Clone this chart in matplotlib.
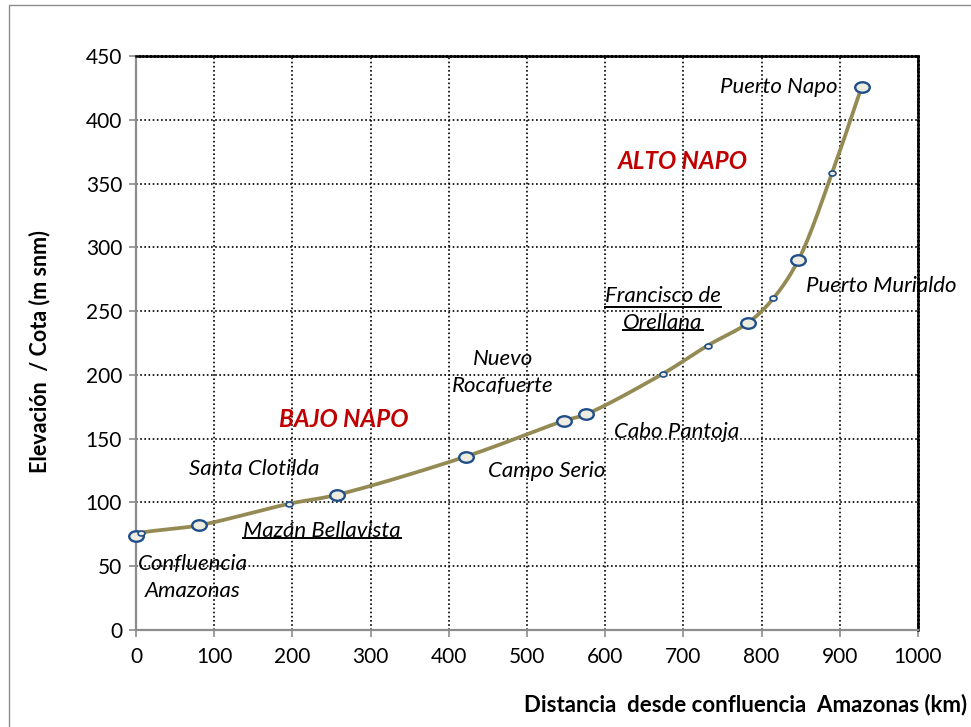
import numpy as np
import matplotlib
matplotlib.use("Agg")
import matplotlib.pyplot as plt
from matplotlib.path import Path
from matplotlib.transforms import Affine2D
from matplotlib.lines import Line2D
from matplotlib.patches import Rectangle

plt.rcParams['font.family'] = ['Lato', 'DejaVu Sans']

# Data
dist_km = [0, 6, 80, 196, 257, 422, 547, 575, 674, 731, 783, 815, 847, 890, 928]
elev_m = [74, 76, 82, 99, 106, 136, 164, 169, 201, 223, 241, 260, 290, 358, 426]
big_marker = [True, False, True, False, True, True, True, True, False, False, True, False, True, False, True]

labels = ["Puerto Napo", "Francisco de\nOrellana", "Puerto Murialdo", "Nuevo\nRocafuerte",
          "Cabo Pantoja", "Campo Serio", "Santa Clotilda", "Mazán Bellavista", "Confluencia\nAmazonas"]
label_x = [747, 674, 857, 469, 611, 450, 68, 137, 73]
label_y = [426, 251, 270, 202, 155, 125, 126, 78, 41]
label_ha = ['left', 'center', 'left', 'center', 'left', 'left', 'left', 'left', 'center']
label_ul = [False, True, False, False, False, False, False, True, False]

regions = ["ALTO NAPO", "BAJO NAPO"]
region_x = [616, 183]
region_y = [367, 165]

xticks = [0, 100, 200, 300, 400, 500, 600, 700, 800, 900, 1000]
yticks = [0, 50, 100, 150, 200, 250, 300, 350, 400, 450]

LABEL_FS = 16

fig = plt.figure(figsize=(9.71, 7.27), dpi=100)
ax = fig.add_axes([136/971, 1-630/727, (918-136)/971, (630-56)/727])
ax.set_xlim(0, 1000)
ax.set_ylim(0, 450)

# outer chart border
fig.add_artist(Rectangle((9/971, -0.01), 1.0, 1 - 5/727 + 0.01, transform=fig.transFigure,
                         fill=False, edgecolor='#8c8c8c', linewidth=1.0))

# centripetal Catmull-Rom smoothing in display-proportional space
sx, sy = 0.782, 1.2756
P = np.column_stack([np.array(dist_km, float) * sx, np.array(elev_m, float) * sy])
P_ext = np.vstack([2 * P[0] - P[1], P, 2 * P[-1] - P[-2]])
curve = []
alpha = 0.5
for i in range(1, len(P_ext) - 2):
    p0, p1, p2, p3 = P_ext[i - 1], P_ext[i], P_ext[i + 1], P_ext[i + 2]
    t0 = 0.0
    t1 = t0 + np.linalg.norm(p1 - p0) ** alpha
    t2 = t1 + np.linalg.norm(p2 - p1) ** alpha
    t3 = t2 + np.linalg.norm(p3 - p2) ** alpha
    t = np.linspace(t1, t2, 40)[:, None]
    A1 = (t1 - t) / (t1 - t0) * p0 + (t - t0) / (t1 - t0) * p1
    A2 = (t2 - t) / (t2 - t1) * p1 + (t - t1) / (t2 - t1) * p2
    A3 = (t3 - t) / (t3 - t2) * p2 + (t - t2) / (t3 - t2) * p3
    B1 = (t2 - t) / (t2 - t0) * A1 + (t - t0) / (t2 - t0) * A2
    B2 = (t3 - t) / (t3 - t1) * A2 + (t - t1) / (t3 - t1) * A3
    C = (t2 - t) / (t2 - t1) * B1 + (t - t1) / (t2 - t1) * B2
    curve.append(C)
curve = np.vstack(curve)
ax.plot(curve[:, 0] / sx, curve[:, 1] / sy, color='#948A54', linewidth=2.7, zorder=3,
        solid_capstyle='round', clip_on=False)

ellipse = Path.unit_circle().transformed(Affine2D().scale(1.0, 0.72))
xb = [x for x, b in zip(dist_km, big_marker) if b]
yb = [y for y, b in zip(elev_m, big_marker) if b]
xs = [x for x, b in zip(dist_km, big_marker) if not b]
ys = [y for y, b in zip(elev_m, big_marker) if not b]
ax.plot(xb, yb, linestyle='none', marker=ellipse, markersize=10.5, markerfacecolor='#EEECE1',
        markeredgecolor='#1F4E89', markeredgewidth=1.7, zorder=4, clip_on=False)
ax.plot(xs, ys, linestyle='none', marker=ellipse, markersize=5, markerfacecolor='#EEECE1',
        markeredgecolor='#1F4E89', markeredgewidth=1.2, zorder=4, clip_on=False)

ax.set_xticks(xticks)
ax.set_yticks(yticks)
ax.tick_params(axis='both', labelsize=15, color='#8c8c8c', length=5, width=1.2, pad=5)
ax.tick_params(axis='x', pad=7)
ax.grid(True, color='black', linestyle=(0, (1, 1.5)), linewidth=1.2)
ax.set_axisbelow(True)
for s in ['left', 'bottom']:
    ax.spines[s].set_color('#8c8c8c')
    ax.spines[s].set_linewidth(1.6)
for s in ['top', 'right']:
    ax.spines[s].set_color('black')
    ax.spines[s].set_linewidth(1.8)
    ax.spines[s].set_linestyle((0, (1, 0.5)))

fig.text(40/971, 1 - 352/727, 'Elevación  / Cota (m snm)', rotation=90, ha='center', va='center',
         fontsize=15.5, fontweight='bold')
fig.text(967/971, 1 - 705/727, 'Distancia  desde confluencia  Amazonas (km)', ha='right', va='center',
         fontsize=16, fontweight='bold')

texts = []
for lab, x, y, ha, ul in zip(labels, label_x, label_y, label_ha, label_ul):
    t = ax.text(x, y, lab, ha=ha, va='center', fontsize=LABEL_FS, fontstyle='italic',
                linespacing=1.45, multialignment='center', zorder=5)
    texts.append((t, ul))

for lab, x, y in zip(regions, region_x, region_y):
    ax.text(x, y, lab, ha='left', va='center', fontsize=17.5, fontstyle='italic', fontweight='bold',
            color='#C00000', zorder=5)

# underline selected labels line by line
fig.canvas.draw()
renderer = fig.canvas.get_renderer()
for t, ul in texts:
    if not ul:
        continue
    bb = t.get_window_extent(renderer)
    lines = t.get_text().split('\n')
    n = len(lines)
    h = bb.height / n
    for k, line in enumerate(lines):
        tmp = fig.text(0, 0, line, fontsize=LABEL_FS, fontstyle='italic')
        w = tmp.get_window_extent(renderer).width
        tmp.remove()
        cx = (bb.x0 + bb.x1) / 2
        ybase = bb.y1 - (k + 1) * h + 3
        fig.add_artist(Line2D([(cx - w / 2) / fig.bbox.width, (cx + w / 2) / fig.bbox.width],
                              [ybase / fig.bbox.height] * 2, color='black', linewidth=1.4,
                              transform=fig.transFigure))

fig.savefig('out.png', dpi=100)
